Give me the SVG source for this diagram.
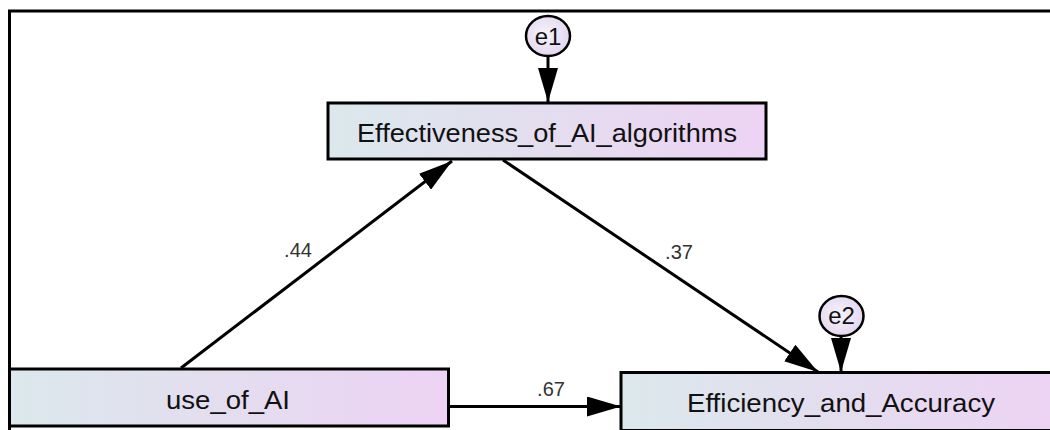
<svg xmlns="http://www.w3.org/2000/svg" width="1050" height="430" viewBox="0 0 1050 430">
  <defs>
    <linearGradient id="boxFill" x1="0" y1="0" x2="1" y2="0">
      <stop offset="0" stop-color="#dbe8ec"/>
      <stop offset="0.5" stop-color="#e4ddef"/>
      <stop offset="1" stop-color="#edd3f4"/>
    </linearGradient>
    <radialGradient id="circFill" cx="0.45" cy="0.45" r="0.6">
      <stop offset="0" stop-color="#f6f4fb"/>
      <stop offset="1" stop-color="#e2d4ef"/>
    </radialGradient>
    <marker id="arrow" viewBox="0 0 34 20" refX="34" refY="10" markerWidth="34" markerHeight="20" markerUnits="userSpaceOnUse" orient="auto">
      <path d="M0,0 L34,10 L0,20 Z" fill="#000"/>
    </marker>
  </defs>
  <style>
    .box { fill: url(#boxFill); stroke: #000; stroke-width: 3; }
    .circ { fill: url(#circFill); stroke: #000; stroke-width: 2.5; }
    .node-text { font-family: "Liberation Sans", Arial, sans-serif; font-size: 26px; fill: #111; text-anchor: middle; }
    .err-text { font-family: "Liberation Sans", Arial, sans-serif; font-size: 24px; fill: #111; text-anchor: middle; }
    .label { font-family: "Liberation Sans", Arial, sans-serif; font-size: 20px; fill: #333; text-anchor: middle; }
    .conn { stroke: #000; stroke-width: 3; fill: none; marker-end: url(#arrow); }
    .frame { stroke: #000; stroke-width: 3; fill: none; }
  </style>
  <rect x="0" y="0" width="1050" height="430" fill="#fff"/>
  <path class="frame" d="M9.5,432 V11 H1052"/>

  <g id="connectors">
    <line class="conn" x1="181" y1="368" x2="452" y2="161"/>
    <line class="conn" x1="503" y1="160" x2="818" y2="372"/>
    <line class="conn" x1="449" y1="406.5" x2="621" y2="406.5"/>
    <line class="conn" x1="548" y1="56" x2="548" y2="102"/>
    <line class="conn" x1="841" y1="337" x2="841" y2="372"/>
    <text class="label" x="298" y="256.5">.44</text>
    <text class="label" x="679" y="258.5">.37</text>
    <text class="label" x="551" y="395.5">.67</text>
  </g>

  <g id="node-effectiveness">
    <rect class="box" x="328" y="103" width="438" height="56"/>
    <text class="node-text" x="547" y="141.5" textLength="380" lengthAdjust="spacingAndGlyphs">Effectiveness_of_AI_algorithms</text>
  </g>

  <g id="node-use">
    <rect class="box" x="9.5" y="369" width="439" height="57"/>
    <text class="node-text" x="228" y="409" textLength="124" lengthAdjust="spacingAndGlyphs">use_of_AI</text>
  </g>

  <g id="node-efficiency">
    <rect class="box" x="621" y="372.5" width="440" height="58"/>
    <text class="node-text" x="841" y="411.5" textLength="308" lengthAdjust="spacingAndGlyphs">Efficiency_and_Accuracy</text>
  </g>

  <g id="node-e1">
    <ellipse class="circ" cx="548" cy="36" rx="22" ry="20"/>
    <text class="err-text" x="548" y="44.5">e1</text>
  </g>

  <g id="node-e2">
    <ellipse class="circ" cx="841.5" cy="316" rx="22" ry="20"/>
    <text class="err-text" x="841.5" y="324">e2</text>
  </g>
</svg>
